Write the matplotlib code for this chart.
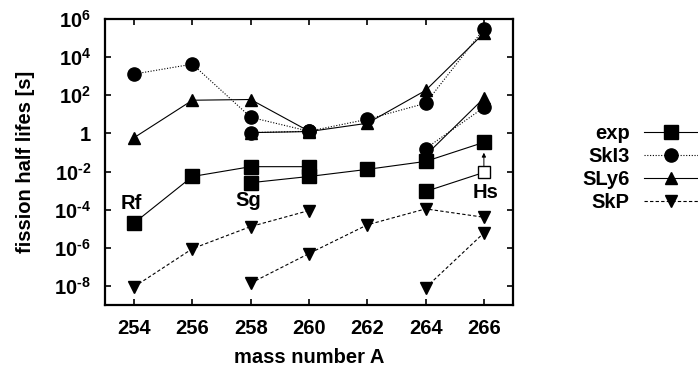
import matplotlib
matplotlib.use("Agg")
import matplotlib.pyplot as plt
from matplotlib.lines import Line2D

plt.rcParams["font.family"] = ["Liberation Sans", "DejaVu Sans"]
plt.rcParams["font.weight"] = "bold"
plt.rcParams["mathtext.fontset"] = "custom"
plt.rcParams["mathtext.rm"] = "Liberation Sans:bold"
plt.rcParams["mathtext.bf"] = "Liberation Sans:bold"
plt.rcParams["mathtext.default"] = "bf"

# isotope chains (mass numbers)
massRf = [254, 256, 258, 260]
massSg = [258, 260, 262, 264, 266]
massHs = [264, 266]

# fission half lives [s]
expRf = [2e-5, 5.5e-3, 1.8e-2, 1.8e-2]
expSg = [2.6e-3, 5.5e-3, 1.3e-2, 3.4e-2, 0.34]
expHs = [9e-4, 9e-3]          # last point is the open square

ski3Rf = [1300, 4300, 7, 1.3]
ski3Sg = [1.1, 1.3, 5.5, 38, 3e5]
ski3Hs = [0.16, 23]

sly6Rf = [0.6, 55, 60, 1.3]
sly6Sg = [1.1, 1.25, 3.4, 180, 1.8e5]
sly6Hs = [0.07, 70]

skpRf = [9e-9, 9e-7, 1.3e-5, 9e-5]
skpSg = [1.4e-8, 5e-7, 1.6e-5, 1.1e-4, 4e-5]
skpHs = [8e-9, 6e-6]

xTicks = [254, 256, 258, 260, 262, 264, 266]
yTicks = [1e-8, 1e-6, 1e-4, 1e-2, 1, 1e2, 1e4, 1e6]
yTickLabels = [r"$10^{\text{-}8}$", r"$10^{\text{-}6}$", r"$10^{\text{-}4}$",
               r"$10^{\text{-}2}$", "1", r"$10^{2}$", r"$10^{4}$", r"$10^{6}$"]
chainLabels = ["Rf", "Sg", "Hs"]

fs = 14.5
lw = 0.8

styles = {
  "exp":  dict(ls="-", marker="s", ms=10, zorder=3),
  "SkI3": dict(ls=(0, (1, 1.5)), marker="o", ms=9.5, zorder=5),
  "SLy6": dict(ls="-", marker="^", ms=9, zorder=4),
  "SkP":  dict(ls=(0, (3, 2)), marker="v", ms=9, zorder=3),
}

fig = plt.figure(figsize=(6.98, 3.70), dpi=100)
ax = fig.add_axes([0.1504, 0.1757, 0.735 - 0.1504, 0.9486 - 0.1757])

def chains(name, rf, sg, hs):
  st = styles[name]
  for m, v in [(massRf, rf), (massSg, sg), (massHs, hs)]:
    ax.plot(m, v, color="k", lw=lw, ls=st["ls"], marker=st["marker"],
            ms=st["ms"], mfc="k", mec="k", zorder=st["zorder"])

# exp: Hs-266 drawn as open square
ax.plot(massRf, expRf, "k-", lw=lw, marker="s", ms=10, zorder=3)
ax.plot(massSg, expSg, "k-", lw=lw, marker="s", ms=10, zorder=3)
ax.plot(massHs, expHs, "k-", lw=lw, zorder=3)
ax.plot(massHs[:1], expHs[:1], "ks", ms=10, zorder=3)
ax.plot(massHs[1:], expHs[1:], "s", ms=8, mfc="white", mec="k", mew=1.0,
        zorder=3)
chains("SkI3", ski3Rf, ski3Sg, ski3Hs)
chains("SLy6", sly6Rf, sly6Sg, sly6Hs)
chains("SkP", skpRf, skpSg, skpHs)

# arrow from open Hs square to the exp value above
ax.annotate("", xy=(massHs[1], expSg[-1] / 3.5), xytext=(massHs[1], expHs[1] * 2.0),
            arrowprops=dict(arrowstyle="-|>", color="k", lw=0.7,
                            mutation_scale=6, shrinkA=0, shrinkB=0))

# chain labels
ax.text(massRf[0] - 0.1, expRf[0] * 10, chainLabels[0], fontsize=fs,
        fontweight="bold", ha="center", va="center")
ax.text(massSg[0] - 0.1, expSg[0] / 9, chainLabels[1], fontsize=fs,
        fontweight="bold", ha="center", va="center")
ax.text(massHs[1] + 0.05, expHs[1] / 11, chainLabels[2], fontsize=fs,
        fontweight="bold", ha="center", va="center")

ax.set_yscale("log")
ax.set_xlim(253, 267)
ax.set_ylim(1e-9, 1e6)
ax.set_xticks(xTicks)
ax.set_xticklabels([str(t) for t in xTicks], fontsize=fs, fontweight="bold")
ax.set_yticks(yTicks)
ax.set_yticklabels(yTickLabels, fontsize=fs)
ax.minorticks_off()
ax.tick_params(direction="in", length=4, width=1.2, top=True, right=True,
               pad=10)
for sp in ax.spines.values():
  sp.set_linewidth(1.6)
ax.set_xlabel("mass number A", fontsize=fs, fontweight="bold", labelpad=7)
ax.set_ylabel("fission half lifes [s]", fontsize=fs, fontweight="bold",
              labelpad=14)

handles = [Line2D([], [], color="k", lw=lw, ls=styles[n]["ls"],
                  marker=styles[n]["marker"], ms=styles[n]["ms"])
           for n in ["exp", "SkI3", "SLy6", "SkP"]]
fig.legend(handles, ["exp", "SkI3", "SLy6", "SkP"], loc="center right",
           bbox_to_anchor=(1.0, 0.545), frameon=False, markerfirst=False,
           handlelength=2.7, handletextpad=0.7,
           labelspacing=0.2, borderpad=0, borderaxespad=0,
           prop=dict(weight="bold", size=fs))

fig.savefig("out.png", dpi=100)
